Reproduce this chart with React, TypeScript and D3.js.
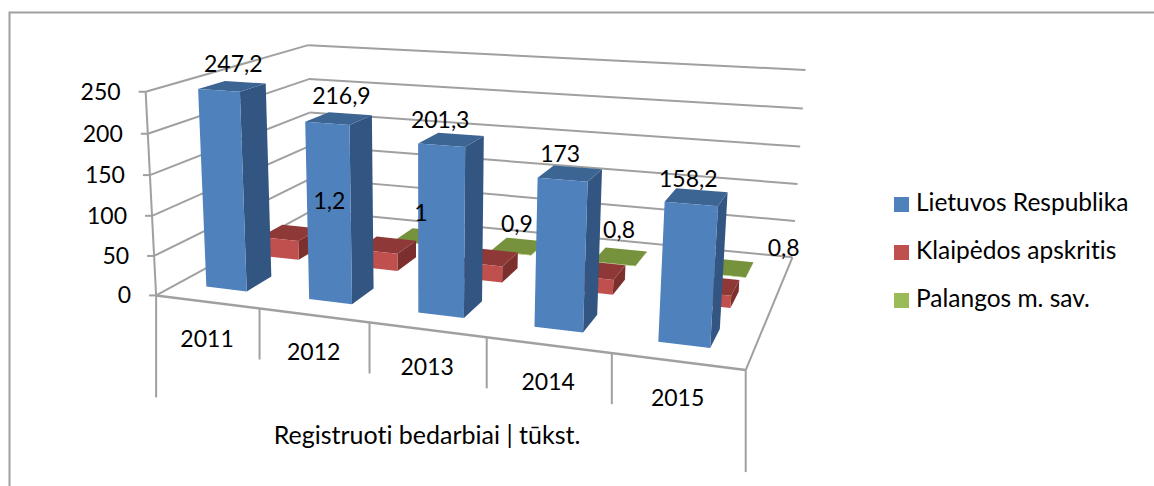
import React, { useMemo } from "react";
import * as d3 from "d3";

const categories = ["2011", "2012", "2013", "2014", "2015"];
const seriesNames = ["Lietuvos Respublika", "Klaipėdos apskritis", "Palangos m. sav."];
const lietuva = [247.2, 216.9, 201.3, 173, 158.2];
const klaipeda = [26, 23, 21, 19, 15];
const palanga = [1.2, 1, 0.9, 0.8, 0.8];
const valueTicks = [0, 50, 100, 150, 200, 250];
const blueLabels = ["247,2", "216,9", "201,3", "173", "158,2"];
const greenLabels = ["1,2", "1", "0,9", "0,8", "0,8"];
const axisTitle = "Registruoti bedarbiai | tūkst.";

// colours: [front, top, side]
const palette = [
  ["#4f81bd", "#3d6594", "#325581"],
  ["#c0504d", "#8e3937", "#7c302e"],
  ["#9bbb59", "#76923c", "#66803a"],
];
const grey = "#a0a0a0";
const FONT = "Lato, 'Open Sans', sans-serif";

// model space -> image calibration (x 0..1, y 0..1, z 0..1)
const calib: [number, number, number, number, number][] = [
  [0, 0, 0, 157, 294],
  [0.2, 0, 0, 260, 308],
  [0.4, 0, 0, 370, 322],
  [0.6, 0, 0, 487, 338],
  [0.8, 0, 0, 612, 354],
  [1, 0, 0, 745, 371],
  [0, 0, 1, 310, 212],
  [1, 0, 1, 793, 256],
  [0, 1, 0, 144, 92],
  [0, 1, 1, 310, 45],
  [1, 1, 1, 805, 70],
];

function solveProjection() {
  const rows: number[][] = [];
  const rhs: number[] = [];
  for (const [X, Y, Z, u0, v0] of calib) {
    const u = u0 / 1000, v = v0 / 1000;
    rows.push([X, Y, Z, 1, 0, 0, 0, 0, -u * X, -u * Y, -u * Z]); rhs.push(u);
    rows.push([0, 0, 0, 0, X, Y, Z, 1, -v * X, -v * Y, -v * Z]); rhs.push(v);
  }
  const n = 11;
  const A = d3.range(n).map((i) => [
    ...d3.range(n).map((j) => d3.sum(rows, (r) => r[i] * r[j])),
    d3.sum(rows, (r, k) => r[i] * rhs[k]),
  ]);
  for (let c = 0; c < n; c++) {
    let p = c;
    for (let r = c + 1; r < n; r++) if (Math.abs(A[r][c]) > Math.abs(A[p][c])) p = r;
    [A[c], A[p]] = [A[p], A[c]];
    for (let r = 0; r < n; r++) {
      if (r === c) continue;
      const f = A[r][c] / A[c][c];
      for (let k = c; k <= n; k++) A[r][k] -= f * A[c][k];
    }
  }
  return A.map((r, i) => r[n] / r[i]);
}

const xScale = d3.scaleLinear().domain([0, categories.length]).range([0, 1]);
const yScale = d3.scaleLinear().domain([0, 250]).range([0, 1]);

// depth extents of each series on the floor, and bar width within a category
const depth: [number, number][] = [[0.12, 0.27], [0.45, 0.6], [0.74, 0.9]];
const barWidth = 0.4;
const barShift = -0.02;
// label offsets from the bar top
const blueNudge = [[-14, -16], [-11, -16], [-23, -12], [-20, -11], [-16, -9]];
const greenNudge = [[-13, -18], [-12, -15], [-11, -14], [-9, -18], [50, -10]];

export default function App() {
  const m = useMemo(solveProjection, []);
  const project = (cat: number, val: number, z: number): [number, number] => {
    const X = xScale(cat), Y = yScale(val);
    const w = m[8] * X + m[9] * Y + m[10] * z + 1;
    return [
      (1000 * (m[0] * X + m[1] * Y + m[2] * z + m[3])) / w,
      (1000 * (m[4] * X + m[5] * Y + m[6] * z + m[7])) / w,
    ];
  };
  const line = d3.line();
  const poly = (pts: [number, number][]) => line(pts) + "Z";
  const seg = (a: [number, number], b: [number, number]) => line([a, b]) as string;
  const nCat = categories.length;
  const values = [lietuva, klaipeda, palanga];

  const bars = [2, 1, 0].flatMap((s) =>
    categories.map((_, i) => {
      const x0 = i + (1 - barWidth) / 2 + barShift, x1 = x0 + barWidth;
      const [z0, z1] = depth[s];
      const v = values[s][i];
      const [front, top, side] = palette[s];
      return (
        <g key={`${s}-${i}`}>
          <path d={poly([project(x1, 0, z0), project(x1, 0, z1), project(x1, v, z1), project(x1, v, z0)])} fill={side} />
          <path d={poly([project(x0, v, z0), project(x1, v, z0), project(x1, v, z1), project(x0, v, z1)])} fill={top} />
          <path d={poly([project(x0, 0, z0), project(x1, 0, z0), project(x1, v, z0), project(x0, v, z0)])} fill={front} />
        </g>
      );
    })
  );

  return (
    <svg width={1154} height={486} style={{ position: "absolute", left: 0, top: 0, background: "#fff" }}>
      <path d="M1154,12.5H9.5V486" fill="none" stroke={grey} strokeWidth={2} />

      {/* walls */}
      {valueTicks.map((t) => (
        <g key={t} stroke={grey} strokeWidth={2}>
          <path d={seg(project(0, t, 0), project(0, t, 1))} />
          <path d={seg(project(0, t, 1), project(nCat, t, 1))} />
          <path d={seg([project(0, t, 0)[0] - 7, project(0, t, 0)[1]], project(0, t, 0))} />
        </g>
      ))}
      <g stroke={grey} strokeWidth={2} fill="none">
        <path d={seg(project(0, 0, 0), project(0, 250, 0))} />
        <path d={seg(project(0, 0, 0), project(nCat, 0, 0))} strokeWidth={2.5} />
        <path d={seg(project(nCat, 0, 0), project(nCat, 0, 1))} />
        {d3.range(nCat + 1).map((i) => {
          const p = project(i, 0, 0);
          const len = i === 0 || i === nCat ? 102 : 51;
          return <path key={i} d={seg(p, [p[0], p[1] + len])} />;
        })}
      </g>

      {bars}

      {/* texts */}
      <g fontFamily={FONT} fontSize={23} fill="#000" style={{ fontVariantLigatures: "none" }}>
        {valueTicks.map((t) => {
          const p = project(0, t, 0);
          return (
            <text key={t} x={p[0] - 25} y={p[1] + 2} textAnchor="end" dominantBaseline="middle">{t}</text>
          );
        })}
        {categories.map((c, i) => {
          const a = project(i + 0.5, 0, 0);
          return (
            <text key={c} x={a[0]} y={a[1] + 39} textAnchor="middle" dominantBaseline="middle">{c}</text>
          );
        })}
        {blueLabels.map((l, i) => {
          const p = project(i + 0.5, lietuva[i], depth[0][1]);
          return (
            <text key={i} x={p[0] + blueNudge[i][0]} y={p[1] + blueNudge[i][1]} textAnchor="middle" dominantBaseline="middle">{l}</text>
          );
        })}
        {greenLabels.map((l, i) => {
          const p = project(i + 0.5, palanga[i], depth[2][1]);
          return (
            <text key={i} x={p[0] + greenNudge[i][0]} y={p[1] + greenNudge[i][1]} textAnchor="middle" dominantBaseline="middle">{l}</text>
          );
        })}
        <text x={427} y={438} fontSize={25} textAnchor="middle" dominantBaseline="middle">{axisTitle}</text>
        {seriesNames.map((n, i) => (
          <g key={n}>
            <rect x={894} y={197 + i * 48} width={15} height={15} fill={palette[i][0]} />
            <text x={916} y={205 + i * 48} fontSize={24.5} dominantBaseline="middle">{n}</text>
          </g>
        ))}
      </g>
    </svg>
  );
}
